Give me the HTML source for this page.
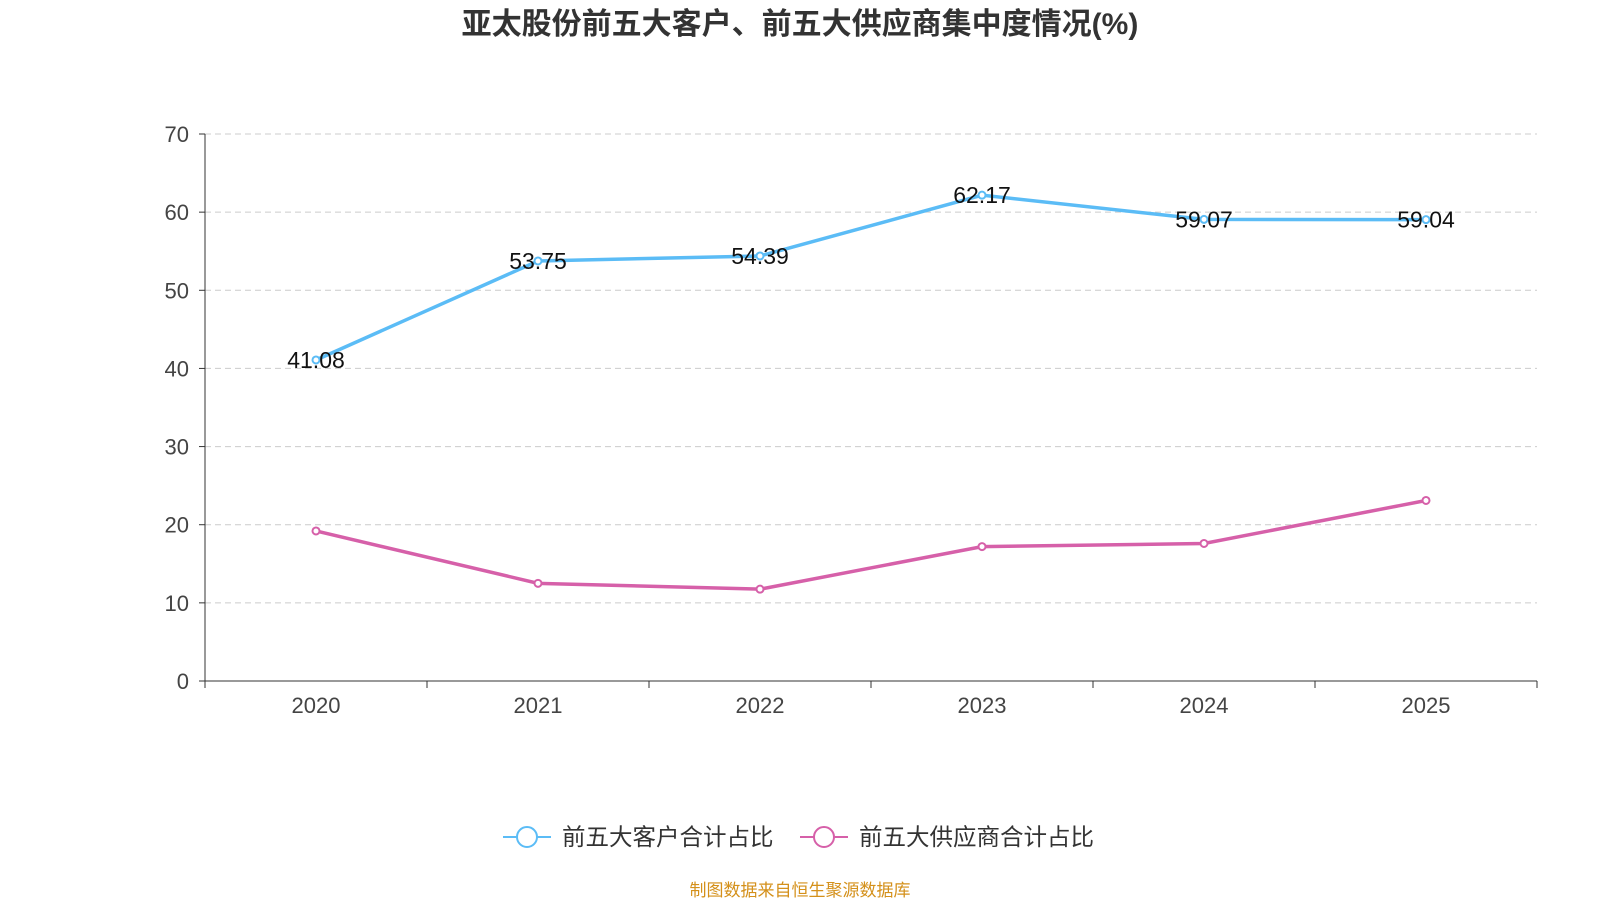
<!DOCTYPE html>
<html><head><meta charset="utf-8"><style>
body{margin:0;background:#fff;width:1600px;height:900px;overflow:hidden;font-family:"Liberation Sans","Noto Sans CJK SC",sans-serif}
</style></head><body>
<svg id="c" width="1600" height="900">
<text x="800" y="34" text-anchor="middle" font-size="30" font-weight="bold" fill="#333">亚太股份前五大客户、前五大供应商集中度情况(%)</text>
<g id="grid"></g><g id="axes"></g><g id="series"></g>
<g>
<g>
<line x1="503" y1="837" x2="551" y2="837" stroke="#5bbcf6" stroke-width="2"/><circle cx="527" cy="837" r="10" fill="#fff" stroke="#5bbcf6" stroke-width="2"/>
<text x="562" y="845" font-size="23.5" fill="#333">前五大客户合计占比</text></g>
<g>
<line x1="800" y1="837" x2="848" y2="837" stroke="#d660a9" stroke-width="2"/><circle cx="824" cy="837" r="10" fill="#fff" stroke="#d660a9" stroke-width="2"/>
<text x="859" y="845" font-size="23.5" fill="#333">前五大供应商合计占比</text></g>
</g>
<text x="800" y="896" text-anchor="middle" font-size="17" fill="#d4901a">制图数据来自恒生聚源数据库</text>
</svg>
<script>
const categories=["2020","2021","2022","2023","2024","2025"];
const customers=[41.08,53.75,54.39,62.17,59.07,59.04];
const suppliers=[19.2,12.5,11.75,17.2,17.6,23.1];
const yTicks=[0,10,20,30,40,50,60,70];
const NS="http://www.w3.org/2000/svg";
const x0=205,x1=1537,yTop=134,yBot=681;
const bw=(x1-x0)/categories.length;
const X=i=>x0+bw*(i+0.5);
const Y=v=>yBot-(v/70)*(yBot-yTop);
function mk(t,a,p){const e=document.createElementNS(NS,t);for(const k in a)e.setAttribute(k,a[k]);p.appendChild(e);return e;}
const g=document.getElementById('grid'),ax=document.getElementById('axes'),s=document.getElementById('series');
yTicks.forEach(v=>{
 if(v>0){const l=mk('line',{x1:x0,x2:x1,y1:Y(v),y2:Y(v),stroke:'#ccc','stroke-dasharray':'6,4'},g);
 
 }
 mk('line',{x1:x0-6,x2:x0,y1:Y(v),y2:Y(v),stroke:'#333'},ax);
 const t=mk('text',{x:x0-16,y:Y(v)+8,'text-anchor':'end','font-size':22,fill:'#444'},ax);t.textContent=v;
 
 
});
mk('line',{x1:x0,x2:x0,y1:yTop,y2:yBot,stroke:'#333'},ax);
mk('line',{x1:x0,x2:x1,y1:yBot,y2:yBot,stroke:'#333'},ax);
for(let i=0;i<=categories.length;i++)mk('line',{x1:x0+bw*i,x2:x0+bw*i,y1:yBot,y2:yBot+7,stroke:'#333'},ax);
categories.forEach((c,i)=>{const t=mk('text',{x:X(i),y:yBot+32,'text-anchor':'middle','font-size':22,fill:'#444'},ax);t.textContent=c;
 
 });
function series(d,col,name,labels){
 const p=mk('polyline',{points:d.map((v,i)=>X(i)+','+Y(v)).join(' '),fill:'none',stroke:col,'stroke-width':3.5},s);
 
 
 d.forEach((v,i)=>{const c=mk('circle',{cx:X(i),cy:Y(v),r:3.5,fill:'#fff',stroke:col,'stroke-width':2},s);
  
  
  if(labels){const t=mk('text',{x:X(i),y:Y(v)+8,'text-anchor':'middle','font-size':23,fill:'#111'},s);t.textContent=v.toFixed(2);
  
  }});
}
series(customers,'#5bbcf6','customers',true);
series(suppliers,'#d660a9','suppliers',false);
</script>
</body></html>
